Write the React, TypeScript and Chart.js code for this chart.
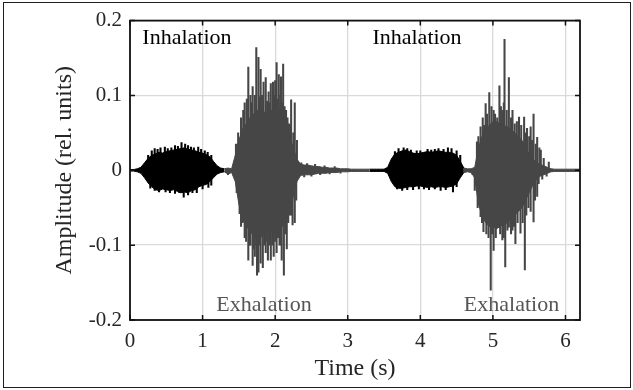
import React, { useEffect, useRef } from 'react';
import { Chart, registerables } from 'chart.js';

Chart.register(...registerables);

// ---------- data ----------
// Envelope of the recorded signal, sampled every SAMPLE_STEP seconds (t = 0 ... 6.2 s)
const SAMPLE_STEP = 0.05;

const upperEnvelope = [
  0.001, 0.001, 0.002, 0.004, 0.010, 0.016, 0.020, 0.022, 0.024, 0.023,
  0.025, 0.026, 0.027, 0.028, 0.029, 0.030, 0.028, 0.027, 0.026, 0.024,
  0.023, 0.021, 0.018, 0.012, 0.006, 0.003, 0.002, 0.003, 0.002, 0.020,
  0.040, 0.055, 0.062, 0.070, 0.075, 0.080, 0.082, 0.078, 0.075, 0.080,
  0.085, 0.082, 0.070, 0.060, 0.045, 0.030, 0.015, 0.008, 0.007, 0.007,
  0.006, 0.005, 0.005, 0.004, 0.004, 0.003, 0.003, 0.003, 0.002, 0.002,
  0.002, 0.0015, 0.0015, 0.0015, 0.0015, 0.0015, 0.0015, 0.0015, 0.0015, 0.0015,
  0.0015, 0.004, 0.015, 0.022, 0.024, 0.026, 0.027, 0.025, 0.023, 0.022,
  0.023, 0.024, 0.025, 0.024, 0.025, 0.026, 0.025, 0.024, 0.024, 0.023,
  0.020, 0.012, 0.003, 0.002, 0.002, 0.004, 0.030, 0.045, 0.055, 0.060,
  0.065, 0.065, 0.062, 0.060, 0.058, 0.055, 0.050, 0.045, 0.040, 0.030,
  0.022, 0.015, 0.010, 0.008, 0.006, 0.004, 0.002, 0.0015, 0.0015, 0.0015,
  0.0015, 0.0015, 0.0015, 0.0015, 0.0015,
];

const lowerEnvelope = [
  -0.001, -0.001, -0.002, -0.004, -0.010, -0.017, -0.022, -0.026, -0.027, -0.025,
  -0.026, -0.027, -0.026, -0.028, -0.030, -0.029, -0.030, -0.027, -0.026, -0.022,
  -0.020, -0.019, -0.015, -0.010, -0.005, -0.003, -0.002, -0.005, -0.003, -0.015,
  -0.045, -0.065, -0.075, -0.080, -0.088, -0.092, -0.090, -0.085, -0.082, -0.080,
  -0.085, -0.082, -0.075, -0.070, -0.055, -0.035, -0.015, -0.007, -0.006, -0.006,
  -0.006, -0.005, -0.004, -0.004, -0.004, -0.003, -0.003, -0.003, -0.002, -0.002,
  -0.002, -0.0015, -0.0015, -0.0015, -0.0015, -0.0015, -0.0015, -0.0015, -0.0015, -0.0015,
  -0.0015, -0.004, -0.015, -0.022, -0.024, -0.024, -0.023, -0.022, -0.022, -0.021,
  -0.021, -0.022, -0.023, -0.022, -0.023, -0.022, -0.022, -0.023, -0.022, -0.021,
  -0.018, -0.010, -0.003, -0.002, -0.003, -0.010, -0.045, -0.060, -0.070, -0.075,
  -0.075, -0.078, -0.075, -0.072, -0.070, -0.065, -0.060, -0.055, -0.050, -0.040,
  -0.030, -0.020, -0.012, -0.008, -0.006, -0.004, -0.002, -0.0015, -0.0015, -0.0015,
  -0.0015, -0.0015, -0.0015, -0.0015, -0.0015,
];

// Individual peaks of the signal: [time (s), amplitude]
const inhalationPeaks: [number, number][] = [
  [0.25, 0.020], [0.30, 0.026], [0.34, 0.029], [0.38, 0.028], [0.42, 0.030], [0.48, 0.031],
  [0.52, 0.029], [0.57, 0.030], [0.62, 0.033], [0.66, 0.032], [0.71, 0.037], [0.76, 0.035],
  [0.80, 0.033], [0.84, 0.031], [0.88, 0.030], [0.94, 0.031], [0.98, 0.028], [1.03, 0.026],
  [1.07, 0.024], [1.12, 0.020],
  [0.28, -0.024], [0.34, -0.027], [0.40, -0.029], [0.49, -0.029], [0.55, -0.030], [0.62, -0.031],
  [0.68, -0.030], [0.74, -0.036], [0.80, -0.033], [0.86, -0.030], [0.92, -0.030], [1.00, -0.025],
  [1.08, -0.023], [1.12, -0.020],
  [3.65, 0.025], [3.70, 0.029], [3.77, 0.030], [3.82, 0.029], [3.87, 0.027], [3.95, 0.026],
  [4.00, 0.026], [4.10, 0.028], [4.15, 0.027], [4.20, 0.028], [4.25, 0.029], [4.32, 0.028],
  [4.38, 0.030], [4.43, 0.029], [4.50, 0.026], [4.55, 0.020],
  [3.68, -0.025], [3.75, -0.027], [3.82, -0.026], [3.90, -0.026], [3.98, -0.025], [4.05, -0.025],
  [4.12, -0.026], [4.20, -0.025], [4.28, -0.027], [4.35, -0.026], [4.45, -0.029], [4.50, -0.022],
];

const exhalationPeaks: [number, number][] = [
  [1.35, -0.006],
  // first exhalation, positive side
  [1.46, 0.035], [1.49, 0.050], [1.53, 0.070], [1.56, 0.080], [1.58, 0.090], [1.61, 0.095],
  [1.63, 0.138], [1.66, 0.100], [1.68, 0.090], [1.69, 0.112], [1.72, 0.100], [1.74, 0.164],
  [1.77, 0.151], [1.79, 0.098], [1.80, 0.135], [1.82, 0.100], [1.84, 0.118], [1.87, 0.124],
  [1.89, 0.092], [1.91, 0.105], [1.93, 0.090], [1.94, 0.116], [1.97, 0.118], [1.99, 0.100],
  [2.00, 0.120], [2.02, 0.144], [2.04, 0.095], [2.05, 0.128], [2.07, 0.100], [2.08, 0.125],
  [2.10, 0.090], [2.11, 0.142], [2.13, 0.085], [2.15, 0.080], [2.17, 0.070], [2.19, 0.062],
  [2.21, 0.060], [2.22, 0.094], [2.25, 0.050], [2.27, 0.090], [2.30, 0.040],
  // first exhalation, negative side
  [1.47, -0.030], [1.51, -0.058], [1.53, -0.075], [1.55, -0.070], [1.58, -0.090], [1.60, -0.095],
  [1.63, -0.120], [1.65, -0.100], [1.66, -0.100], [1.69, -0.127], [1.71, -0.105], [1.72, -0.115],
  [1.74, -0.100], [1.75, -0.140], [1.77, -0.136], [1.79, -0.100], [1.80, -0.124], [1.83, -0.130],
  [1.85, -0.100], [1.87, -0.110], [1.89, -0.095], [1.90, -0.120], [1.92, -0.100], [1.94, -0.120],
  [1.96, -0.100], [1.98, -0.115], [2.00, -0.095], [2.02, -0.110], [2.04, -0.090], [2.06, -0.100],
  [2.08, -0.100], [2.09, -0.120], [2.12, -0.140], [2.14, -0.085], [2.16, -0.105], [2.18, -0.070],
  [2.20, -0.060], [2.22, -0.060], [2.24, -0.073], [2.27, -0.070], [2.29, -0.040],
  // tail noise
  [2.36, 0.010], [2.40, -0.009], [2.44, 0.009], [2.50, -0.008], [2.55, 0.008], [2.62, -0.006],
  [2.68, 0.006], [2.75, -0.005], [2.82, 0.005], [2.90, -0.004],
  [4.72, -0.006],
  // second exhalation, positive side
  [4.78, 0.038], [4.80, 0.045], [4.83, 0.058], [4.86, 0.070], [4.88, 0.060], [4.90, 0.089],
  [4.92, 0.075], [4.95, 0.104], [4.98, 0.085], [5.01, 0.080], [5.03, 0.075], [5.06, 0.070],
  [5.09, 0.113], [5.11, 0.085], [5.13, 0.080], [5.15, 0.090], [5.16, 0.175], [5.19, 0.080],
  [5.22, 0.124], [5.25, 0.070], [5.27, 0.080], [5.30, 0.062], [5.33, 0.065], [5.36, 0.071],
  [5.39, 0.060], [5.43, 0.071], [5.45, 0.050], [5.47, 0.056], [5.50, 0.045], [5.52, 0.058],
  [5.54, 0.040], [5.56, 0.075], [5.59, 0.035], [5.61, 0.044], [5.64, 0.030], [5.66, 0.027],
  [5.70, 0.016], [5.77, 0.011],
  // second exhalation, negative side
  [4.75, -0.027], [4.79, -0.050], [4.83, -0.062], [4.85, -0.070], [4.87, -0.082], [4.91, -0.085],
  [4.94, -0.090], [4.97, -0.160], [4.99, -0.085], [5.01, -0.107], [5.04, -0.090], [5.08, -0.076],
  [5.10, -0.085], [5.13, -0.093], [5.15, -0.090], [5.17, -0.129], [5.20, -0.080], [5.22, -0.076],
  [5.25, -0.085], [5.27, -0.080], [5.29, -0.075], [5.31, -0.098], [5.34, -0.070], [5.38, -0.084],
  [5.41, -0.070], [5.44, -0.133], [5.46, -0.060], [5.49, -0.050], [5.52, -0.055], [5.56, -0.069],
  [5.58, -0.040], [5.61, -0.035], [5.63, -0.018], [5.68, -0.012], [5.74, -0.008],
];

// Inhalation intervals (s) - drawn in black, everything else in grey
const inhalationSpans: [number, number][] = [[0, 1.3], [3.3, 4.6]];

const xTickValues = [0, 1, 2, 3, 4, 5, 6];
const xTickLabels = ['0', '1', '2', '3', '4', '5', '6'];
const yTickValues = [-0.2, -0.1, 0, 0.1, 0.2];
const yTickLabels = ['-0.2', '-0.1', '0', '0.1', '0.2'];

const annotationTexts = ['Inhalation', 'Inhalation', 'Exhalation', 'Exhalation'];
const annotationTimes = [0.17, 3.34, 1.19, 4.6];
const annotationAmps = [0.177, 0.177, -0.18, -0.18];
const annotationIsInhalation = [true, true, false, false];

// ---------- styling ----------
const FONT = '"Liberation Serif", "Times New Roman", serif';
const INH_COLOR = '#000000';
const EXH_COLOR = '#464646';
const EXH_TEXT = '#555555';
const TEXT = '#262626';

function buildDatasets() {
  const n = upperEnvelope.length;
  const segs: { from: number; to: number; inh: boolean }[] = [];
  let cursor = 0;
  inhalationSpans.forEach(([a, b]) => {
    const ia = Math.round(a / SAMPLE_STEP);
    const ib = Math.round(b / SAMPLE_STEP);
    if (ia > cursor) segs.push({ from: cursor, to: ia, inh: false });
    segs.push({ from: ia, to: ib, inh: true });
    cursor = ib;
  });
  if (cursor < n - 1) segs.push({ from: cursor, to: n - 1, inh: false });

  const datasets: any[] = [];
  segs.forEach((s) => {
    const color = s.inh ? INH_COLOR : EXH_COLOR;
    const pts = (arr: number[]) =>
      arr.slice(s.from, s.to + 1).map((v, k) => ({ x: (s.from + k) * SAMPLE_STEP, y: v }));
    datasets.push({
      type: 'line',
      data: pts(upperEnvelope),
      borderColor: color,
      backgroundColor: color,
      borderWidth: 1,
      pointRadius: 0,
      tension: 0,
      fill: '+1',
    });
    datasets.push({
      type: 'line',
      data: pts(lowerEnvelope),
      borderColor: color,
      backgroundColor: color,
      borderWidth: 1,
      pointRadius: 0,
      tension: 0,
      fill: false,
    });
  });

  const inInhalation = (t: number) => inhalationSpans.some(([a, b]) => t >= a && t <= b);
  const peaks = [...inhalationPeaks, ...exhalationPeaks];
  datasets.push({
    type: 'bar',
    data: peaks.map(([t, v]) => ({ x: t, y: [0, v] })),
    backgroundColor: peaks.map(([t]) => (inInhalation(t) ? INH_COLOR : EXH_COLOR)),
    borderWidth: 0,
    barThickness: 1.4,
    grouped: false,
  });
  return datasets;
}

const framePlugin = {
  id: 'frameAndNotes',
  afterDraw(chart: any) {
    const { ctx, chartArea: a, scales } = chart;
    const xs = scales.x;
    const ys = scales.y;
    ctx.save();
    // annotations
    ctx.font = `22px ${FONT}`;
    ctx.textBaseline = 'middle';
    ctx.textAlign = 'left';
    annotationTexts.forEach((txt, i) => {
      ctx.fillStyle = annotationIsInhalation[i] ? INH_COLOR : EXH_TEXT;
      ctx.fillText(txt, xs.getPixelForValue(annotationTimes[i]), ys.getPixelForValue(annotationAmps[i]));
    });
    // inward ticks
    ctx.strokeStyle = '#111';
    ctx.lineWidth = 1.5;
    const L = 5;
    ctx.beginPath();
    xTickValues.forEach((v) => {
      const px = xs.getPixelForValue(v);
      ctx.moveTo(px, a.bottom);
      ctx.lineTo(px, a.bottom - L);
      ctx.moveTo(px, a.top);
      ctx.lineTo(px, a.top + L);
    });
    yTickValues.forEach((v) => {
      const py = ys.getPixelForValue(v);
      ctx.moveTo(a.left, py);
      ctx.lineTo(a.left + L, py);
      ctx.moveTo(a.right, py);
      ctx.lineTo(a.right - L, py);
    });
    ctx.stroke();
    // box
    ctx.lineWidth = 1.8;
    ctx.strokeRect(a.left, a.top, a.right - a.left, a.bottom - a.top);
    ctx.restore();
  },
};

export default function App() {
  const canvasRef = useRef<HTMLCanvasElement | null>(null);

  useEffect(() => {
    document.body.style.margin = '0';
    const canvas = canvasRef.current;
    if (!canvas) return;
    const chart = new Chart(canvas, {
      type: 'line',
      data: { datasets: buildDatasets() },
      options: {
        animation: false,
        responsive: false,
        devicePixelRatio: 1,
        events: [],
        layout: { padding: { left: 0, top: 20, right: 53, bottom: 0 } },
        plugins: {
          legend: { display: false },
          tooltip: { enabled: false },
        },
        scales: {
          x: {
            type: 'linear',
            min: 0,
            max: 6.2,
            offset: false,
            afterBuildTicks: (scale: any) => {
              scale.ticks = xTickValues.map((v) => ({ value: v }));
            },
            afterFit: (scale: any) => {
              scale.height = 70;
            },
            grid: { color: '#d9d9d9', lineWidth: 1.3, drawTicks: false, offset: false },
            border: { display: false },
            ticks: {
              padding: 9,
              color: TEXT,
              font: { family: FONT, size: 21 },
              maxRotation: 0,
              autoSkip: false,
              callback: (v: any) => xTickLabels[xTickValues.indexOf(Number(v))] ?? '',
            },
            title: {
              display: true,
              text: 'Time (s)',
              color: TEXT,
              font: { family: FONT, size: 24 },
              padding: { top: 0, bottom: 7 },
            },
          },
          y: {
            type: 'linear',
            min: -0.2,
            max: 0.2,
            afterBuildTicks: (scale: any) => {
              scale.ticks = yTickValues.map((v) => ({ value: v }));
            },
            afterFit: (scale: any) => {
              scale.width = 130;
            },
            grid: { color: '#d9d9d9', lineWidth: 1.3, drawTicks: false, offset: false },
            border: { display: false },
            ticks: {
              padding: 8,
              color: TEXT,
              font: { family: FONT, size: 21 },
              autoSkip: false,
              callback: (v: any) => {
                const i = yTickValues.findIndex((t) => Math.abs(t - Number(v)) < 1e-9);
                return i >= 0 ? yTickLabels[i] : '';
              },
            },
            title: {
              display: true,
              text: 'Amplitude (rel. units)',
              color: TEXT,
              font: { family: FONT, size: 24 },
              padding: { top: 50, bottom: 0 },
            },
          },
        },
      } as any,
      plugins: [framePlugin],
    });
    return () => chart.destroy();
  }, []);

  return (
    <div style={{ position: 'relative', width: 633, height: 390, background: '#fff' }}>
      <canvas ref={canvasRef} width={633} height={390} style={{ width: 633, height: 390, display: 'block' }} />
      <div
        style={{
          position: 'absolute',
          left: 3,
          top: 2,
          width: 628,
          height: 386,
          boxSizing: 'border-box',
          border: '1.5px solid #1e1e1e',
          pointerEvents: 'none',
        }}
      />
    </div>
  );
}
